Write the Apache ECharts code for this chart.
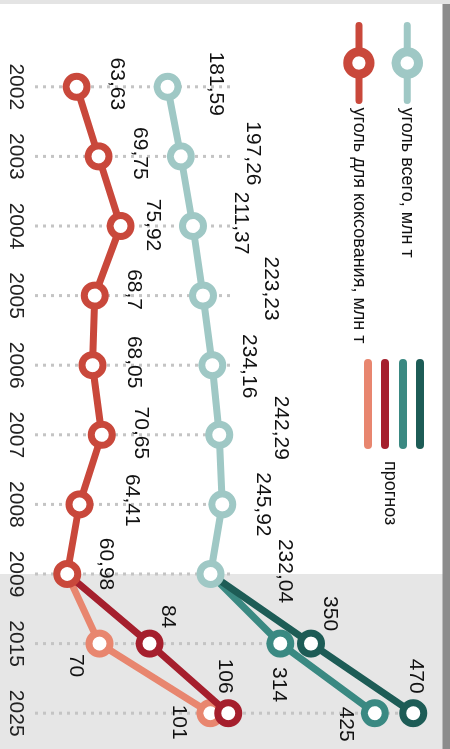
<!DOCTYPE html>
<html>
<head>
<meta charset="utf-8">
<script src="https://cdn.jsdelivr.net/npm/echarts@6/dist/echarts.min.js"></script>
<style>
  html, body { margin: 0; padding: 0; background: #fff; overflow: hidden; width: 450px; height: 749px; }
  #chart { position: absolute; left: 0; top: 0; width: 749px; height: 450px;
           transform-origin: 0 0; transform: translate(450px, 0) rotate(90deg); }
</style>
</head>
<body>
<div id="chart"></div>
<script>
// ---- data ----
const years = ['2002','2003','2004','2005','2006','2007','2008','2009','2015','2025'];
const coalTotal   = [181.59, 197.26, 211.37, 223.23, 234.16, 242.29, 245.92, 232.04, null, null];
const cokingCoal  = [63.63, 69.75, 75.92, 68.7, 68.05, 70.65, 64.41, 60.98, null, null];
const forecastTotalHigh  = [null, null, null, null, null, null, null, 232.04, 350, 470];
const forecastTotalLow   = [null, null, null, null, null, null, null, 232.04, 314, 425];
const forecastCokingHigh = [null, null, null, null, null, null, null, 60.98, 84, 106];
const forecastCokingLow  = [null, null, null, null, null, null, null, 60.98, 70, 101];
const nameTotal = 'уголь всего, млн т';
const nameCoking = 'уголь для коксования, млн т';
const forecastLabel = 'прогноз';

// ---- styles ----
const FONT = '"Liberation Sans", Arial, sans-serif';
const C = {
  total: '#9fc8c5', coking: '#c9483b',
  totalHigh: '#1d5c56', totalLow: '#3a8982',
  cokingHigh: '#a51f2d', cokingLow: '#e8866f'
};
const TEAL_MIN = 26, TEAL_MAX = 505, RED_MIN = 52, RED_MAX = 166;
const GUIDE_MIN = 255;
// label offsets as seen on the page: [right, down]
const offTotal  = [[48,-3],[72,-3],[48,-3],[68,-7],[36,1],[62,-7],[40,0],[74,-3]];
const offCoking = [[40,-3],[41,-3],[32,-1],[39,-6],[41,-3],[39,-2],[52,-4],[39,-10]];
const offFc = {
  totalHigh: {8:[19,-30], 9:[3,-37]},
  totalLow:  {8:[-2,41], 9:[-29,11]},
  cokingHigh:{8:[18,-27], 9:[-3,-37]},
  cokingLow: {8:[-24,22], 9:[-32,9]}
};
const fmt = v => String(v).replace('.', ',');
const toOffset = o => [o[1], -o[0]];

function histData(arr, offs) {
  return arr.map((v, i) => v == null ? null : { value: v, label: { offset: toOffset(offs[i]) } });
}
function fcData(arr, offs) {
  return arr.map((v, i) => {
    if (v == null) return null;
    if (!offs[i]) return { value: v, symbol: 'none', label: { show: false } };
    return { value: v, label: { offset: toOffset(offs[i]) } };
  });
}
const labelBase = {
  show: true, position: 'inside', align: 'center', verticalAlign: 'middle',
  formatter: p => fmt(p.value), color: '#111', fontSize: 21, fontFamily: FONT
};
function lineSeries(name, data, color, axis, z) {
  return {
    name, type: 'line', data, yAxisIndex: axis, z,
    symbol: 'circle', symbolSize: 21, connectNulls: false,
    lineStyle: { color, width: 7 },
    itemStyle: { color: '#fff', borderColor: color, borderWidth: 7 },
    label: labelBase, emphasis: { disabled: true }, animation: false
  };
}
const guideData = years.map((y, i) => {
  const vals = [coalTotal[i], forecastTotalHigh[i], forecastTotalLow[i]].filter(v => v != null);
  return [i, Math.max(GUIDE_MIN, ...vals)];
});

const chart = echarts.init(document.getElementById('chart'), null, { renderer: 'canvas' });
const option = {
  animation: false,
  backgroundColor: '#fff',
  grid: { left: 52, right: 1, top: 7, bottom: 35, containLabel: false },
  xAxis: {
    type: 'category', data: years, boundaryGap: true,
    axisLine: { show: false }, axisTick: { show: false }, splitLine: { show: false },
    axisLabel: { interval: 0, margin: 9, fontSize: 21, fontFamily: FONT, color: '#222' }
  },
  yAxis: [
    { type: 'value', min: RED_MIN, max: RED_MAX, show: false },
    { type: 'value', min: TEAL_MIN, max: TEAL_MAX, show: false }
  ],
  legend: {
    data: [nameTotal, nameCoking], orient: 'vertical', left: 22, top: 27, padding: 0,
    itemWidth: 75, itemHeight: 28, itemGap: 17, selectedMode: false,
    textStyle: { fontSize: 18, fontFamily: FONT, color: '#111', padding: [0, 0, 0, 2] },
    itemStyle: { borderWidth: 9 },
    lineStyle: { width: 7, cap: 'round' }
  },
  series: [
    {
      type: 'custom', yAxisIndex: 1, z: 1, data: guideData, encode: { x: 0, y: 1 },
      silent: true,
      renderItem: (params, api) => {
        const s = api.coord([api.value(0), TEAL_MIN]);
        const e = api.coord([api.value(0), api.value(1)]);
        return { type: 'line', shape: { x1: s[0], y1: s[1], x2: e[0], y2: e[1] },
                 style: { stroke: '#c4c4c4', lineWidth: 3, lineDash: [3, 5] } };
      }
    },
    lineSeries('fc1', fcData(forecastCokingLow, offFc.cokingLow), C.cokingLow, 0, 2),
    lineSeries('fc2', fcData(forecastCokingHigh, offFc.cokingHigh), C.cokingHigh, 0, 3),
    lineSeries('fc3', fcData(forecastTotalLow, offFc.totalLow), C.totalLow, 1, 2),
    lineSeries('fc4', fcData(forecastTotalHigh, offFc.totalHigh), C.totalHigh, 1, 3),
    lineSeries(nameTotal, histData(coalTotal, offTotal), C.total, 1, 5),
    lineSeries(nameCoking, histData(cokingCoal, offCoking), C.coking, 0, 5)
  ]
};
chart.setOption(option);

const x0 = chart.convertToPixel({ xAxisIndex: 0 }, '2009');
const fcColors = [C.cokingLow, C.cokingHigh, C.totalLow, C.totalHigh];
const fcV = [82, 65, 47, 30];
chart.setOption({
  graphic: [
    { type: 'rect', z: -10, shape: { x: x0, y: 7, width: 749 - x0, height: 443 }, style: { fill: '#e6e6e6' }, silent: true },
    { type: 'rect', z: -9, shape: { x: 0, y: 0, width: 4, height: 450 }, style: { fill: '#e4e4e4' }, silent: true },
    { type: 'rect', z: -9, shape: { x: 4, y: 0, width: 745, height: 7.5 }, style: { fill: '#8c8c8c' }, silent: true },
    ...fcColors.map((c, i) => ({
      type: 'line', z: 10, silent: true,
      shape: { x1: 363, y1: fcV[i], x2: 445, y2: fcV[i] },
      style: { stroke: c, lineWidth: 8, lineCap: 'round' }
    })),
    { type: 'text', z: 10, silent: true, x: 461, y: 60,
      style: { text: forecastLabel, fontSize: 18, fontFamily: FONT, fill: '#111', verticalAlign: 'middle', align: 'left' } }
  ]
});
</script>
</body>
</html>
